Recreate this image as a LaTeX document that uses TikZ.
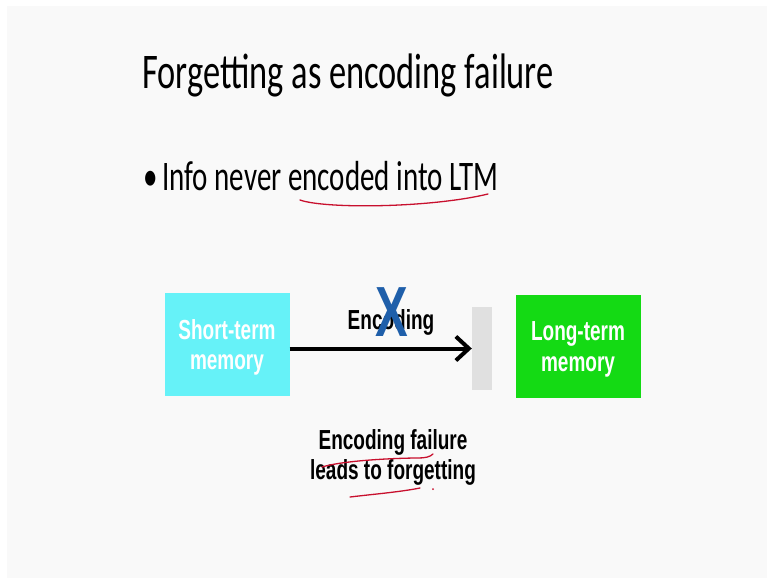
\documentclass[tikz,border=0pt]{standalone}
\usepackage{fontspec}
\usepackage{graphicx}
\setmainfont{Carlito}
\newfontfamily\diagfont{Liberation Sans}
\usetikzlibrary{arrows.meta,positioning}

\newcommand{\tall}[1]{\scalebox{1}[1.45]{#1}}
\newcommand{\lowered}[1]{\raisebox{-4pt}[\height][\depth]{#1}}

\definecolor{stmcyan}{HTML}{66F2F8}
\definecolor{ltmgreen}{HTML}{14DA14}
\definecolor{bargray}{HTML}{E0E0E0}
\definecolor{inkred}{HTML}{C8102E}
\definecolor{crossblue}{HTML}{1F5FAA}
\definecolor{slidebg}{HTML}{F9F9F9}

\begin{document}
\begin{tikzpicture}[x=1pt,y=-1pt,
	memorybox/.style={minimum width=125pt, minimum height=103pt, inner sep=0pt, text=white, font=\diagfont\bfseries\fontsize{19}{21}\selectfont, align=center},
	diagtext/.style={font=\diagfont\bfseries\fontsize{19}{21}\selectfont, anchor=base, inner sep=0pt},
	ink/.style={inkred, line width=1.3pt, line cap=round}]
	\useasboundingbox (0,0) rectangle (767,578);
	\fill[white] (0,0) rectangle (767,578);
	\fill[slidebg] (7,6) rectangle (767,578);

	\node[anchor=base west, inner sep=0pt, font=\fontsize{34.4}{40}\selectfont] (title) at (142,88) {\tall{Forgetting as encoding failure}};
	\node[anchor=base west, inner sep=0pt, font=\fontsize{29}{34}\selectfont] (dot) at (143,190) {\tall{•}};
	\node[anchor=base west, inner sep=0pt, font=\fontsize{29}{34}\selectfont] (bullet) at (162,190) {\tall{Info never encoded into LTM}};

	\node[memorybox, fill=stmcyan] (stm) at (227,344.5) {\lowered{\tall{\begin{tabular}{@{}c@{}}Short-term\\memory\end{tabular}}}};
	\node[memorybox, fill=ltmgreen] (ltm) at (578,346) {\lowered{\tall{\begin{tabular}{@{}c@{}}Long-term\\memory\end{tabular}}}};
	\node[fill=bargray, minimum width=20pt, minimum height=83pt, inner sep=0pt] (barrier) at (482,348.5) {};

	\draw[line width=4pt, -{Straight Barb[length=13pt,width=24pt]}] (stm.east |- barrier.west) -- (barrier.west);

	\node[diagtext] (enc) at (391,329) {\tall{Encoding}};
	\node[diagtext, font=\diagfont\bfseries\fontsize{49}{50}\selectfont, text=crossblue] (cross) at (392,336) {\tall{X}};

	\node[diagtext] (caption) at (393,449) {\tall{\begin{tabular}[t]{@{}c@{}}Encoding failure\\leads to forgetting\end{tabular}}};

	% hand-drawn marks
	\draw[ink] (300,200) .. controls (325,209) and (430,208) .. (488,194);
	\draw[ink] (322,467) .. controls (345,460) and (400,458) .. (418,458) .. controls (425,458) and (430,457) .. (433,454);
	\draw[ink] (350,497) .. controls (375,494) and (400,492) .. (420,488);
	\fill[inkred] (433,489) circle (1pt);
\end{tikzpicture}
\end{document}
